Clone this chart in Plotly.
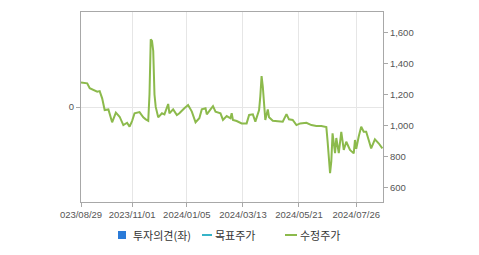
import plotly.graph_objects as go

# trading-day index -> adjusted price (수정주가)
day_idx = [0, 5, 7, 10, 13, 15, 17, 19, 22, 25, 28, 31, 34, 37, 39, 41, 43, 47, 50, 52,
           54, 55, 56, 57, 58, 59, 60, 62, 65, 67, 70, 71, 74, 77, 79, 83, 86, 89, 92, 95,
           97, 100, 101, 104, 106, 108, 112, 114, 117, 120, 121, 122, 125, 129, 133, 135, 138, 140, 142, 143,
           144, 145, 146, 147, 148, 150, 151, 154, 160, 162, 165, 167, 170, 173, 176, 181, 185, 189, 193, 196,
           197, 198, 199, 200, 201, 202, 204, 205, 207, 209, 211, 213, 216, 219, 220, 221, 223, 225, 227, 229,
           231, 233, 236, 239, 242]
price = [1278, 1272, 1240, 1229, 1218, 1222, 1175, 1100, 1104, 1021, 1083, 1057, 1003, 1018, 993, 1029, 1079, 1087, 1053, 1040,
         1031, 1200, 1555, 1545, 1480, 1200, 1120, 1053, 1079, 1072, 1139, 1079, 1104, 1068, 1079, 1111, 1132, 1090, 1021, 1047,
         1104, 1111, 1072, 1104, 1125, 1090, 1079, 1036, 1061, 1047, 1079, 1036, 1029, 1014, 1014, 1068, 1072, 1025, 1068, 1100,
         1190, 1319, 1250, 1100, 1036, 1104, 1053, 1031, 1025, 1025, 1074, 1040, 1036, 1003, 1014, 1018, 1003, 997, 997, 993,
         990, 900, 780, 693, 770, 950, 823, 920, 823, 960, 843, 896, 843, 821, 907, 850, 930, 993, 960, 960,
         907, 853, 911, 886, 853]

tick_idx = [0, 41, 85, 130, 175, 221]
tick_labels = ["023/08/29", "2023/11/01", "2024/01/05", "2024/03/13", "2024/05/21", "2024/07/26"]
right_ticks = [600, 800, 1000, 1200, 1400, 1600]
right_tick_labels = ["600", "800", "1,000", "1,200", "1,400", "1,600"]

GREEN = "#8cba4c"
BLUE = "#2b7bd8"
TEAL = "#37b4c8"
AXIS = "#a8a8a8"
GRID = "#e6e6e6"
FONT = "Liberation Sans, Arial, sans-serif"
KFONT = "Noto Sans CJK KR, sans-serif"
TICKFONT = dict(family=FONT, size=9.5, color="#555555")

fig = go.Figure()
# empty trace so the left (투자의견) axis is drawn
fig.add_trace(go.Scatter(x=[None], y=[None], mode="markers", yaxis="y",
                         showlegend=False, hoverinfo="skip"))
fig.add_trace(go.Scatter(x=day_idx, y=price, mode="lines", yaxis="y2",
                         line=dict(color=GREEN, width=2), showlegend=False,
                         hoverinfo="skip"))

L, R, T, B = 81, 383, 12, 202
W, H = 479, 255

def px(x):
    return (x - L) / (R - L)

def py(y):
    return (B - y) / (B - T)

fig.update_layout(
    width=W, height=H,
    margin=dict(l=L, r=W - R, t=T, b=H - B),
    paper_bgcolor="white", plot_bgcolor="white",
    showlegend=False,
    font=dict(family=FONT, size=10, color="#555555"),
    xaxis=dict(range=[0, 242.5], tickmode="array", tickvals=tick_idx, ticktext=tick_labels,
               tickangle=0,
               showgrid=True, gridcolor=GRID, gridwidth=1, zeroline=False,
               showline=True, linecolor=AXIS, linewidth=1, mirror=True,
               ticks="outside", ticklen=4, tickcolor=AXIS, tickfont=TICKFONT),
    yaxis=dict(range=[-1, 1], tickmode="array", tickvals=[0], ticktext=["0"],
               showgrid=True, gridcolor=GRID, zeroline=False,
               showline=True, linecolor=AXIS, linewidth=1, mirror=True,
               ticks="outside", ticklen=4, tickcolor=AXIS, tickfont=TICKFONT),
    yaxis2=dict(range=[508, 1731], overlaying="y", side="right",
                tickmode="array", tickvals=right_ticks, ticktext=right_tick_labels,
                showgrid=False, zeroline=False,
                showline=True, linecolor=AXIS, linewidth=1,
                ticks="outside", ticklen=4, tickcolor=AXIS, tickfont=TICKFONT),
)

# legend drawn manually
shapes = [
    dict(type="rect", xref="paper", yref="paper", x0=px(118), x1=px(126), y0=py(239), y1=py(231),
         fillcolor=BLUE, line=dict(width=0)),
    dict(type="line", xref="paper", yref="paper", x0=px(202), x1=px(212), y0=py(235), y1=py(235),
         line=dict(color=TEAL, width=2)),
    dict(type="line", xref="paper", yref="paper", x0=px(285), x1=px(297), y0=py(235), y1=py(235),
         line=dict(color=GREEN, width=2)),
]
anns = []
for text, x in [("투자의견(좌)", 130.5), ("목표주가", 213), ("수정주가", 298)]:
    anns.append(dict(text=text, xref="paper", yref="paper", x=px(x), y=py(235),
                     xanchor="left", yanchor="middle", showarrow=False,
                     font=dict(family=KFONT, size=11, color="#333333")))
fig.update_layout(shapes=shapes, annotations=anns)

fig.write_html("out.html")
